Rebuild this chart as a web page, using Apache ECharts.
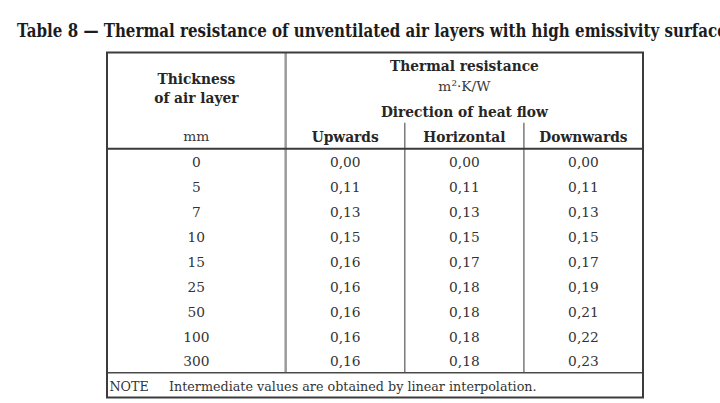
<!DOCTYPE html>
<html><head><meta charset="utf-8">
<script src="https://cdn.jsdelivr.net/npm/echarts@6/dist/echarts.min.js"></script>
<style>html,body{margin:0;padding:0;background:#fff}#c{width:720px;height:403px}</style>
</head><body><div id="c"></div>
<script>
// ---- data ----
const titleText = 'Table 8 \u2014 Thermal resistance of unventilated air layers with high emissivity surfaces';
const thickness = [0, 5, 7, 10, 15, 25, 50, 100, 300];
const upwards = [0.00, 0.11, 0.13, 0.15, 0.16, 0.16, 0.16, 0.16, 0.16];
const horizontal = [0.00, 0.11, 0.13, 0.15, 0.17, 0.18, 0.18, 0.18, 0.18];
const downwards = [0.00, 0.11, 0.13, 0.15, 0.17, 0.19, 0.21, 0.22, 0.23];
const directions = ['Upwards', 'Horizontal', 'Downwards'];
const headerThickness = ['Thickness', 'of air layer'];
const unitThickness = 'mm';
const headerResistance = 'Thermal resistance';
const unitResistance = 'm\u00B2\u00B7K/W';
const headerDirection = 'Direction of heat flow';
const noteLabel = 'NOTE';
const noteText = 'Intermediate values are obtained by linear interpolation.';

// ---- layout (axis units) ----
const colEdges = [0, 1.5, 2.5, 3.5, 4.5];
const HEAD = 3.875;           // header height in row units
const NROW = thickness.length;
const YMAX = HEAD + NROW + 1;

const FAM = '"DejaVu Serif", serif';
const ctx = document.createElement('canvas').getContext('2d');
function mw(t, f) { ctx.font = f; return ctx.measureText(t).width; }
const fTitle = 'bold 18px ' + FAM;
const fBold = 'bold 14.5px ' + FAM;
const fReg = '13.5px ' + FAM;
const fNote = '12.5px ' + FAM;
const sxTitle = 701 / mw('Table 8 \u2014 Thermal resistance of unventilated air layers with high emissivity surfac', fTitle);
const sxBold = 149 / mw(headerResistance, fBold);
const sxNote = 368 / mw(noteText, fNote);
const sxReg = sxNote;

const fmt = v => v.toFixed(2).replace('.', ',');
const colCenter = c => (colEdges[c] + colEdges[c + 1]) / 2;

const cells = [];
function add(x, y, text, font, sx, align, color) {
  cells.push({ value: [x, y], text: text, font: font, sx: sx, align: align || 'center', color: color || '#262626' });
}
// header
add(colCenter(0), 1.06, headerThickness[0], fBold, sxBold);
add(colCenter(0), 1.82, headerThickness[1], fBold, sxBold);
add(colCenter(0), 3.38, unitThickness, fReg, sxReg, 'center', '#3a3a3a');
add((colEdges[1] + colEdges[4]) / 2, 0.53, headerResistance, fBold, sxBold);
add((colEdges[1] + colEdges[4]) / 2, 1.34, unitResistance, fReg, sxReg, 'center', '#3a3a3a');
add((colEdges[1] + colEdges[4]) / 2, 2.38, headerDirection, fBold, sxBold);
directions.forEach((d, i) => add(colCenter(i + 1), 3.38, d, fBold, sxBold));
// body
const cols = [thickness.map(String), upwards.map(fmt), horizontal.map(fmt), downwards.map(fmt)];
cols.forEach((arr, c) => arr.forEach((t, r) => add(colCenter(c), HEAD + r + 0.55, t, fReg, sxReg, 'center', '#333')));
// note
add(0.02, HEAD + NROW + 0.55, noteLabel, fNote, sxNote, 'left', '#333');
add(0.52, HEAD + NROW + 0.55, noteText, fNote, sxNote, 'left', '#333');

const chart = echarts.init(document.getElementById('c'), null, { renderer: 'svg' });

function line(api, a, b, w, color) {
  const p = api.coord(a), q = api.coord(b);
  return { type: 'line', shape: { x1: p[0], y1: p[1], x2: q[0], y2: q[1] }, style: { stroke: color, lineWidth: w } };
}

chart.setOption({
  animation: false,
  backgroundColor: '#fff',
  graphic: [{
    type: 'text', x: 17, y: 30, scaleX: sxTitle,
    style: { text: titleText, font: fTitle, fill: '#1c1c1c', align: 'left', verticalAlign: 'middle', textAlign: 'left', textVerticalAlign: 'middle' }
  }],
  grid: { left: 107, top: 52.5, width: 536, height: 345 },
  xAxis: { type: 'value', min: 0, max: colEdges[4], show: false },
  yAxis: { type: 'value', min: 0, max: YMAX, inverse: true, show: false },
  series: [{
    type: 'custom',
    data: [[0, 0]],
    renderItem: function (params, api) {
      const X = colEdges[4];
      return {
        type: 'group',
        children: [
          line(api, [colEdges[1], 0], [colEdges[1], HEAD + NROW], 2.5, '#9a9a9a'),
          line(api, [colEdges[2], 2.83], [colEdges[2], HEAD + NROW], 1.5, '#7a7a7a'),
          line(api, [colEdges[3], 2.83], [colEdges[3], HEAD + NROW], 1.5, '#7a7a7a'),
          line(api, [0, HEAD], [X, HEAD], 2, '#3a3a3a'),
          line(api, [0, HEAD + NROW], [X, HEAD + NROW], 1.5, '#4a4a4a'),
          { type: 'rect', shape: (function () { const p = api.coord([0, 0]), q = api.coord([X, YMAX]); return { x: p[0], y: p[1], width: q[0] - p[0], height: q[1] - p[1] }; })(),
            style: { fill: 'none', stroke: '#3c3c3c', lineWidth: 2 } }
        ]
      };
    }
  }, {
    type: 'custom',
    data: cells.map(c => c.value),
    renderItem: function (params, api) {
      const c = cells[params.dataIndex];
      const p = api.coord([api.value(0), api.value(1)]);
      return {
        type: 'text', x: p[0], y: p[1], scaleX: c.sx,
        style: { text: c.text, font: c.font, fill: c.color, align: c.align, verticalAlign: 'middle', textAlign: c.align, textVerticalAlign: 'middle' }
      };
    }
  }]
});
</script>
</body></html>
